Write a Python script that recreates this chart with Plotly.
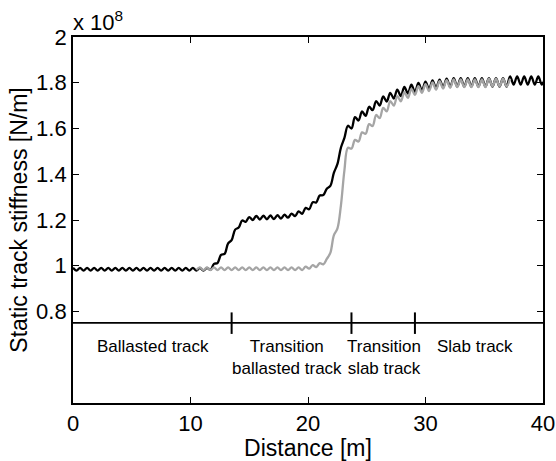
import numpy as np
import plotly.graph_objects as go

# Sampling grid (m): half sleeper-spacing steps
x_start = 0.0
x_step = 0.3

# Static track stiffness, units of 1e8 N/m  (black: full transition)
black = [0.991, 0.979] * 19 + [0.991] + [
    0.982, 1.008, 1.012, 1.048, 1.052, 1.098, 1.112, 1.158, 1.167, 1.198,
    1.192, 1.213, 1.200, 1.218, 1.202, 1.219, 1.203, 1.220, 1.204, 1.221,
    1.206, 1.223, 1.210, 1.228, 1.217, 1.238, 1.227, 1.253, 1.247, 1.278,
    1.277, 1.307, 1.309, 1.337, 1.349, 1.406, 1.444, 1.516, 1.559, 1.612,
    1.600, 1.650, 1.635, 1.675, 1.655, 1.695, 1.680, 1.720, 1.700, 1.740,
    1.718, 1.756, 1.731, 1.770, 1.742, 1.782, 1.753, 1.792, 1.760, 1.799,
    1.766, 1.805, 1.772, 1.810, 1.776, 1.814, 1.780, 1.818, 1.782,
] + [1.820, 1.783] * 8 + [1.828, 1.792] * 5 + [1.828]

# grey: transition without intermediate ballasted section (starts at index 35)
grey_start_index = 35
grey = [0.981] + [0.993, 0.981] * 15 + [
    0.996, 0.987, 1.003, 0.994, 1.011, 1.006, 1.030, 1.056, 1.133, 1.162,
    1.263, 1.417, 1.516, 1.512, 1.550, 1.543, 1.583, 1.577, 1.619, 1.611,
    1.659, 1.645, 1.690, 1.675, 1.720, 1.700, 1.741, 1.719, 1.759, 1.734,
    1.773, 1.747, 1.785, 1.756, 1.794, 1.764, 1.801, 1.770, 1.807, 1.775,
    1.811, 1.778,
] + [1.815, 1.781] * 5 + [1.818, 1.784] * 3 + [1.818]

# Track section annotations
boundaries = [13.5, 23.7, 29.1]
section_labels = ["Ballasted track", "Transition<br>ballasted track",
                  "Transition<br>slab track", "Slab track"]
section_centers = [6.8, 18.2, 26.5, 34.2]
baseline_level = 0.75

x_black = x_start + x_step * np.arange(len(black))
x_grey = x_start + x_step * (grey_start_index + np.arange(len(grey)))

font = "Liberation Sans, Arial, sans-serif"

fig = go.Figure()
fig.add_trace(go.Scatter(x=x_black, y=black, mode="lines",
                         line=dict(color="black", width=2.3, shape="spline", smoothing=1.0),
                         showlegend=False))
fig.add_trace(go.Scatter(x=x_grey, y=grey, mode="lines",
                         line=dict(color="rgb(165,165,165)", width=2.3, shape="spline", smoothing=1.0),
                         showlegend=False))

shapes = [dict(type="line", xref="x", yref="y", x0=0, x1=40, y0=baseline_level, y1=baseline_level,
               line=dict(color="black", width=1.8))]
for b in boundaries:
    shapes.append(dict(type="line", xref="x", yref="y", x0=b, x1=b,
                       y0=baseline_level + 0.046, y1=baseline_level - 0.048,
                       line=dict(color="black", width=2)))

annotations = []
for lab, cx in zip(section_labels, section_centers):
    annotations.append(dict(x=cx, y=baseline_level - 0.052, xref="x", yref="y",
                            text=lab, showarrow=False, xanchor="center", yanchor="top",
                            font=dict(family=font, size=17, color="black")))
annotations.append(dict(x=0, y=1, xref="paper", yref="paper", text="x 10<sup>8</sup>",
                        showarrow=False, xanchor="left", yanchor="bottom", yshift=0, xshift=-2,
                        font=dict(family=font, size=22, color="black")))

fig.update_layout(
    width=556, height=461,
    margin=dict(l=73, r=13, t=37, b=58, autoexpand=False),
    paper_bgcolor="white", plot_bgcolor="white",
    font=dict(family=font, size=22, color="black"),
    shapes=shapes, annotations=annotations,
    xaxis=dict(range=[0, 40], tickvals=[0, 10, 20, 30, 40], ticks="inside", ticklen=6,
               tickcolor="black", showline=True, linecolor="black", linewidth=1.8,
               mirror="allticks", showgrid=False, zeroline=False, automargin=False,
               title=dict(text="Distance [m]", font=dict(size=23), standoff=0)),
    yaxis=dict(range=[0.4, 2.0], tickvals=[0.8, 1.0, 1.2, 1.4, 1.6, 1.8, 2.0],
               ticktext=["0.8", "1", "1.2", "1.4", "1.6", "1.8", "2"],
               ticks="inside", ticklen=6, tickcolor="black", showline=True,
               linecolor="black", linewidth=1.8, mirror="allticks", showgrid=False,
               zeroline=False, automargin=False,
               title=dict(text="Static track stiffness [N/m]", font=dict(size=23), standoff=2)),
)

fig.write_html("out.html")
